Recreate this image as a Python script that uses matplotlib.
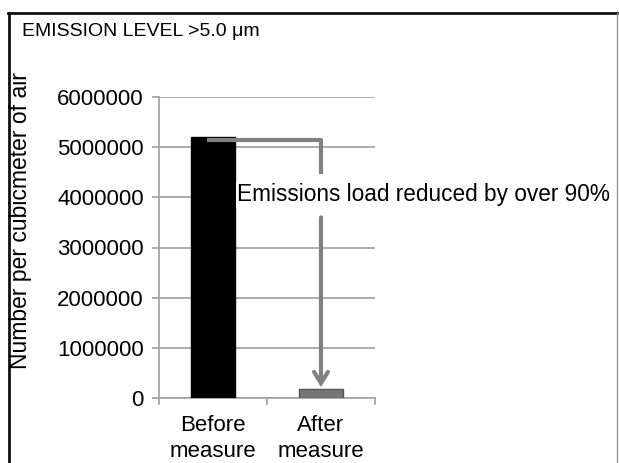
import matplotlib
matplotlib.use("Agg")
import matplotlib.pyplot as plt
from matplotlib.lines import Line2D

plt.rcParams['font.family'] = ['Liberation Sans', 'DejaVu Sans']

categories = ["Before\nmeasure", "After\nmeasure"]
values = [5200000, 180000]
bar_colors = ["#000000", "#767676"]
edge_colors = ["#000000", "#555555"]
yticks = [0, 1000000, 2000000, 3000000, 4000000, 5000000, 6000000]
title = "EMISSION LEVEL >5.0 μm"
ylabel = "Number per cubicmeter of air"
note = "Emissions load reduced by over 90%"

W, H = 619, 463
fig = plt.figure(figsize=(W / 100, H / 100), dpi=100)
ax = fig.add_axes([159 / W, 1 - 398 / H, (375 - 159) / W, (398 - 97) / H])

x = list(range(len(categories)))
ax.bar(x, values, width=0.4, color=bar_colors, edgecolor=edge_colors, linewidth=1, zorder=3)

ax.set_xlim(-0.5, len(categories) - 0.5)
ax.set_ylim(0, 6000000)
ax.set_yticks(yticks)
ax.set_yticklabels([str(v) for v in yticks], fontsize=16)
ax.yaxis.grid(True, color="#a6a6a6", linewidth=1.3, zorder=0)
ax.set_axisbelow(True)

ax.set_xticks(x)
ax.set_xticklabels(categories, fontsize=16, linespacing=1.35)
ax.set_xticks([-0.5, 0.5, 1.5], minor=True)
ax.tick_params(axis='x', which='major', length=0, pad=12)
ax.tick_params(axis='x', which='minor', length=5, color="#a6a6a6", width=1.3, direction='out')
ax.tick_params(axis='y', length=5, color="#a6a6a6", width=1.3, pad=6)

for s in ["top", "right"]:
    ax.spines[s].set_visible(False)
for s in ["left", "bottom"]:
    ax.spines[s].set_color("#a6a6a6")
    ax.spines[s].set_linewidth(1.3)

# annotation arrow
acol = "#808080"
line_y = 5150000
ax.plot([-0.04, 1, 1], [line_y, line_y, 4500000], color=acol, lw=3, zorder=4,
        solid_joinstyle='round', clip_on=False)
ax.annotate("", xy=(1, values[1] + 40000), xytext=(1, 3600000),
            arrowprops=dict(arrowstyle="->,head_length=0.8,head_width=0.5", color=acol, lw=3,
                            shrinkA=0, shrinkB=0, joinstyle='miter'), zorder=4)
ax.text(0.222, 4050000, note, fontsize=16.3,
        ha='left', va='center', zorder=5, clip_on=False,
        bbox=dict(facecolor='white', edgecolor='none', pad=1))

# title and y label
fig.text(22 / W, 1 - 32 / H, title, fontsize=14, ha='left', va='center')
fig.text(21 / W, 1 - 221 / H, ylabel, fontsize=16.5, rotation=90, ha='center', va='center')

# outer frame
fig.add_artist(Line2D([8 / W, 617 / W], [1 - 13 / H, 1 - 13 / H], color="#111111", lw=2, transform=fig.transFigure))
fig.add_artist(Line2D([9 / W, 9 / W], [0, 1 - 13 / H], color="#111111", lw=2, transform=fig.transFigure))
fig.add_artist(Line2D([617 / W, 617 / W], [0, 1 - 13 / H], color="#999999", lw=1, transform=fig.transFigure))

fig.savefig("out.png", dpi=100)
